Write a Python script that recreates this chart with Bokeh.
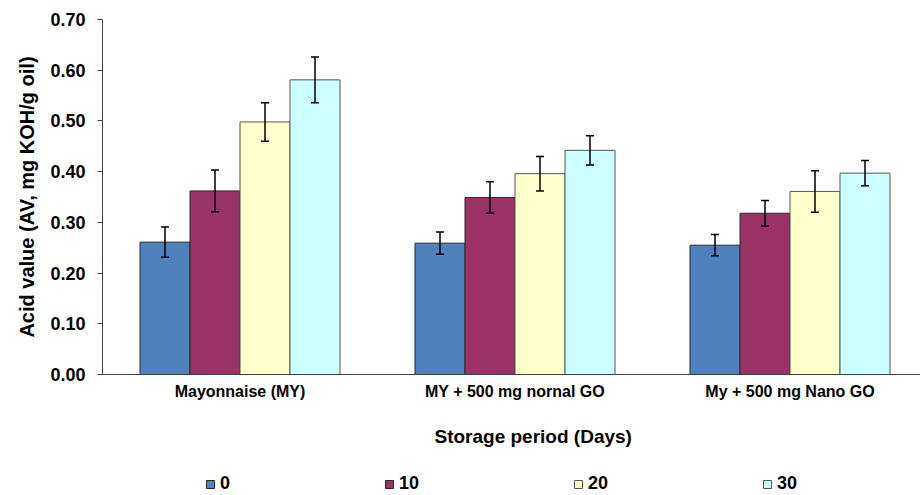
from bokeh.plotting import figure
from bokeh.layouts import column
from bokeh.models import (ColumnDataSource, Range1d, FixedTicker, NumeralTickFormatter,
                          Whisker, TeeHead, Legend, LegendItem, Title)
from bokeh.transform import dodge
from bokeh.embed import file_html
from bokeh.resources import INLINE

# ---- data ----
categories = ["Mayonnaise (MY)", "MY + 500 mg nornal GO", "My + 500 mg Nano GO"]
days = ["0", "10", "20", "30"]
av_day0 = [0.261, 0.259, 0.255]
av_day10 = [0.362, 0.349, 0.318]
av_day20 = [0.498, 0.396, 0.361]
av_day30 = [0.581, 0.442, 0.397]
err_day0 = [0.030, 0.022, 0.021]
err_day10 = [0.041, 0.031, 0.025]
err_day20 = [0.038, 0.034, 0.041]
err_day30 = [0.045, 0.029, 0.025]
y_ticks = [0.0, 0.1, 0.2, 0.3, 0.4, 0.5, 0.6, 0.7]

values = [av_day0, av_day10, av_day20, av_day30]
errors = [err_day0, err_day10, err_day20, err_day30]
colors = ["#4F81BD", "#993366", "#FFFFCC", "#CCFFFF"]
outline = ["#2a2a2a", "#2a2a2a", "#555555", "#555555"]

FONT = "Liberation Sans"
W = 920
H_MAIN = 468
H_LEG = 27
LEFT = 102
frame_w = W - LEFT
cat_px = 275.0
bar_w = 50.0 / cat_px
offsets = [-1.5 * bar_w, -0.5 * bar_w, 0.5 * bar_w, 1.5 * bar_w]

p = figure(width=W, height=H_MAIN, output_backend="svg", toolbar_location=None,
           x_range=Range1d(0, frame_w / cat_px), y_range=Range1d(0, 0.70),
           min_border_left=LEFT, min_border_right=0, min_border_top=19,
           min_border_bottom=H_MAIN - 374)
p.outline_line_color = None
p.xgrid.grid_line_color = None
p.ygrid.grid_line_color = None

# legend strip below the chart (its y range lies above all values, so its bars stay hidden)
q = figure(width=W, height=H_LEG, output_backend="svg", toolbar_location=None,
           x_range=p.x_range, y_range=Range1d(1, 2), min_border=0)
q.axis.visible = False
q.grid.grid_line_color = None
q.outline_line_color = None

centers = [i + 0.5 for i in range(len(categories))]
items = []
for k, d in enumerate(days):
    src = ColumnDataSource(dict(
        x=centers,
        top=values[k],
        upper=[v + e for v, e in zip(values[k], errors[k])],
        lower=[v - e for v, e in zip(values[k], errors[k])],
        xd=[c + offsets[k] for c in centers],
    ))
    p.vbar(x=dodge("x", offsets[k], range=p.x_range), top="top", width=bar_w,
           source=src, fill_color=colors[k], line_color=outline[k], line_width=1)
    wh = Whisker(source=src, base="xd", upper="upper", lower="lower", level="overlay",
                 line_color="black", line_width=1.5,
                 upper_head=TeeHead(size=8, line_color="black", line_width=1.5),
                 lower_head=TeeHead(size=8, line_color="black", line_width=1.5))
    p.add_layout(wh)
    r = q.vbar(x=dodge("x", offsets[k], range=q.x_range), top="top", width=bar_w,
               source=src, fill_color=colors[k], line_color=outline[k], line_width=1)
    items.append(LegendItem(label=d, renderers=[r]))

# y axis
ya = p.yaxis[0]
ya.ticker = FixedTicker(ticks=y_ticks)
ya.formatter = NumeralTickFormatter(format="0.00")
ya.axis_label = "Acid value (AV, mg KOH/g oil)"
ya.axis_label_text_font = FONT
ya.axis_label_text_font_style = "bold"
ya.axis_label_text_font_size = "20px"
ya.axis_label_text_color = "black"
ya.axis_label_standoff = 9
ya.major_label_text_font = FONT
ya.major_label_text_font_style = "bold"
ya.major_label_text_font_size = "18px"
ya.major_label_text_color = "black"
ya.major_label_standoff = 12
ya.major_tick_out = 5
ya.major_tick_in = 0
ya.minor_tick_line_color = None
ya.axis_line_color = "#404040"
ya.major_tick_line_color = "#404040"

# x axis
xa = p.xaxis[0]
xa.ticker = FixedTicker(ticks=centers)
xa.major_label_overrides = {c: lab for c, lab in zip(centers, categories)}
xa.major_label_text_font = FONT
xa.major_label_text_font_style = "bold"
xa.major_label_text_font_size = "16px"
xa.major_label_text_color = "black"
xa.major_label_standoff = 2
xa.major_tick_line_color = None
xa.minor_tick_line_color = None
xa.axis_line_color = "#404040"

xtitle = Title(text="Storage period (Days)", align="left", offset=332,
               text_font=FONT, text_font_style="bold", text_font_size="19px",
               text_color="black", standoff=42)
p.add_layout(xtitle, "below")

legend = Legend(items=items, orientation="horizontal", location=(103, 1),
                glyph_width=10, glyph_height=10, label_standoff=5, spacing=154,
                padding=0, margin=0, border_line_color=None, background_fill_alpha=0,
                label_text_font=FONT, label_text_font_style="bold",
                label_text_font_size="18px", label_text_color="black",
                label_height=20, label_width=0)
q.add_layout(legend, "center")

layout = column(p, q, spacing=0)
open("out.html", "w").write(file_html(layout, INLINE))
